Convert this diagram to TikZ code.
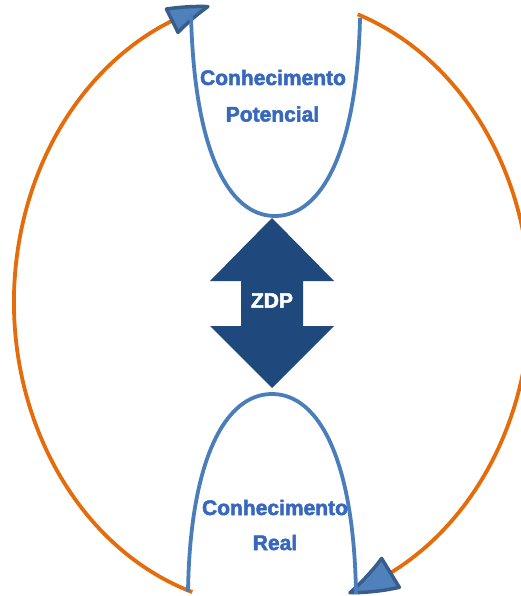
\documentclass[tikz,border=0pt]{standalone}
\usepackage{fontspec}
\setmainfont{Liberation Sans}
\newfontfamily\labelfont[FakeBold=2.5]{Liberation Sans Bold}
\usetikzlibrary{arrows.meta,bending}
\definecolor{ringorange}{RGB}{228,108,10}
\definecolor{curveblue}{RGB}{74,126,187}
\definecolor{tipfill}{RGB}{79,129,189}
\definecolor{tipedge}{RGB}{56,93,138}
\definecolor{zdpblue}{RGB}{31,73,125}
\definecolor{labelblue}{RGB}{55,104,190}
\begin{document}
\begin{tikzpicture}[x=1pt,y=-1pt,
  ring/.style={draw=ringorange, line width=3.8pt},
  bowl/.style={draw=curveblue, line width=3.8pt},
  headsmall/.style={-{Triangle[bend,length=46pt,width=30pt,fill=tipfill,color=tipedge,line width=3.5pt,round]}},
  headlarge/.style={-{Triangle[bend,length=52pt,width=38pt,fill=tipfill,color=tipedge,line width=3.5pt,round]}},
  label/.style={font=\fontsize{21}{21}\selectfont\labelfont, text=labelblue, anchor=base, inner sep=0pt},
  zdplabel/.style={font=\fontsize{21}{21}\selectfont\labelfont, text=white, inner sep=0pt},
]
\useasboundingbox (0,0) rectangle (521,596);

% centre of the cycle
\coordinate (hub) at (272,302);

% orange cycle: left half rising, right half descending
\draw[ring, headsmall] (hub) ++(108:258 and 305)
  arc[start angle=108, end angle=256, x radius=258, y radius=305];
\draw[ring, headlarge] (hub) ++(-70.6:258 and 305)
  arc[start angle=-70.6, end angle=72.8, x radius=258, y radius=305];

% upper bowl
\coordinate (potL) at (191,14);
\coordinate (potBottom) at (275,216);
\coordinate (potR) at (360,18);
\draw[bowl] (potL) .. controls (194,150) and (228,216) .. (potBottom)
  .. controls (322,216) and (357,150) .. (potR);

% lower dome
\coordinate (realL) at (188,592);
\coordinate (realTop) at (272,394);
\coordinate (realR) at (356,594);
\draw[bowl] (realL) .. controls (190,460) and (225,394) .. (realTop)
  .. controls (319,394) and (354,460) .. (realR);

% double-headed block arrow
\fill[zdpblue] (272,218) -- (334,281) -- (303,281) -- (303,326) -- (334,326)
  -- (272,388) -- (210,326) -- (241,326) -- (241,281) -- (210,281) -- cycle;
\node[zdplabel] (zdp) at (272,300.5) {ZDP};

% labels
\node[label] (potA) at (273,85) {Conhecimento};
\node[label] (potB) at (272.5,121.5) {Potencial};
\node[label] (realA) at (275,515) {Conhecimento};
\node[label] (realB) at (275,550) {Real};
\end{tikzpicture}
\end{document}
